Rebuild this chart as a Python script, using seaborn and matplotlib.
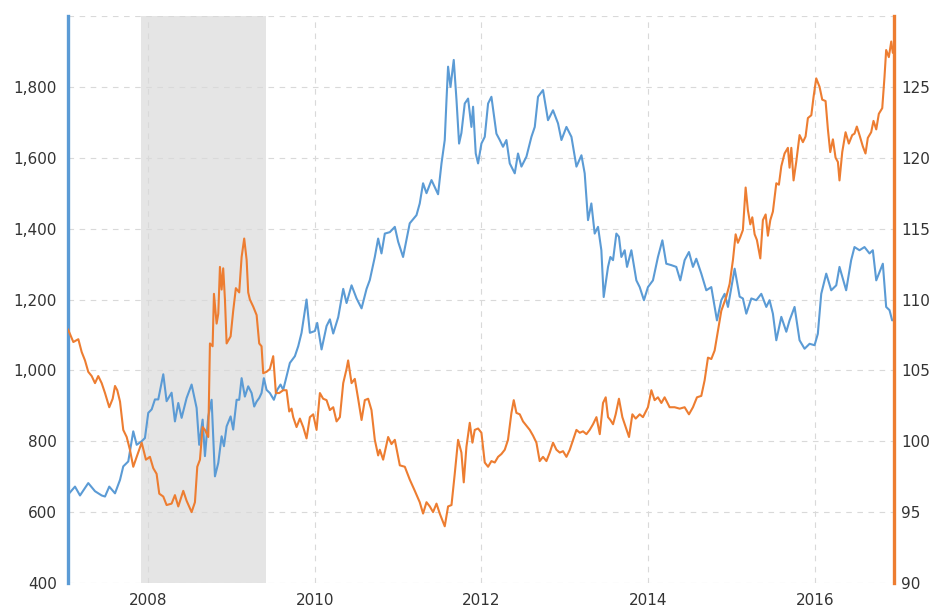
import matplotlib
matplotlib.use("Agg")
import matplotlib.pyplot as plt
import seaborn as sns
import pandas as pd

# ---- data (decimal years) ----
gold_t = [2007.04, 2007.124, 2007.184, 2007.283, 2007.364, 2007.444, 2007.484, 2007.535, 2007.604, 2007.664,
          2007.703, 2007.763, 2007.823, 2007.864, 2007.924, 2007.963, 2008.003, 2008.044, 2008.083, 2008.123,
          2008.183, 2008.223, 2008.283, 2008.323, 2008.363, 2008.403, 2008.463, 2008.523, 2008.583, 2008.614,
          2008.655, 2008.683, 2008.723, 2008.763, 2008.803, 2008.843, 2008.883, 2008.911, 2008.943, 2008.991,
          2009.022, 2009.063, 2009.094, 2009.123, 2009.162, 2009.202, 2009.243, 2009.274, 2009.303, 2009.334,
          2009.362, 2009.390, 2009.422, 2009.462, 2009.510, 2009.550, 2009.590, 2009.622, 2009.662, 2009.702,
          2009.762, 2009.802, 2009.842, 2009.902, 2009.942, 2010.002, 2010.030, 2010.082, 2010.142, 2010.182,
          2010.222, 2010.282, 2010.342, 2010.382, 2010.442, 2010.502, 2010.562, 2010.622, 2010.661, 2010.721,
          2010.761, 2010.801, 2010.841, 2010.901, 2010.961, 2011.001, 2011.060, 2011.140, 2011.221, 2011.260,
          2011.300, 2011.341, 2011.401, 2011.480, 2011.521, 2011.560, 2011.581, 2011.600, 2011.629, 2011.668,
          2011.701, 2011.732, 2011.760, 2011.800, 2011.840, 2011.880, 2011.900, 2011.932, 2011.960, 2012.000,
          2012.040, 2012.080, 2012.120, 2012.180, 2012.220, 2012.259, 2012.300, 2012.340, 2012.400, 2012.439,
          2012.480, 2012.540, 2012.600, 2012.640, 2012.679, 2012.739, 2012.799, 2012.859, 2012.919, 2012.960,
          2013.020, 2013.080, 2013.140, 2013.200, 2013.239, 2013.279, 2013.319, 2013.359, 2013.399, 2013.439,
          2013.467, 2013.519, 2013.547, 2013.579, 2013.619, 2013.650, 2013.679, 2013.719, 2013.747, 2013.799,
          2013.859, 2013.899, 2013.950, 2013.998, 2014.058, 2014.118, 2014.171, 2014.218, 2014.278, 2014.338,
          2014.386, 2014.438, 2014.490, 2014.538, 2014.578, 2014.638, 2014.698, 2014.758, 2014.826, 2014.878,
          2014.918, 2014.958, 2015.038, 2015.098, 2015.137, 2015.178, 2015.238, 2015.298, 2015.358, 2015.418,
          2015.457, 2015.497, 2015.538, 2015.598, 2015.658, 2015.697, 2015.757, 2015.817, 2015.877, 2015.937,
          2015.997, 2016.036, 2016.077, 2016.137, 2016.197, 2016.257, 2016.296, 2016.376, 2016.436, 2016.476,
          2016.536, 2016.596, 2016.656, 2016.696, 2016.737, 2016.816, 2016.856, 2016.896, 2016.928]
gold = [649, 672, 647, 682, 659, 647, 644, 672, 653, 691,
        729, 743, 828, 790, 800, 809, 880, 890, 918, 918,
        989, 913, 937, 856, 908, 866, 922, 960, 894, 790,
        861, 758, 870, 917, 701, 739, 814, 786, 842, 870,
        833, 917, 917, 978, 926, 955, 936, 898, 912, 922,
        936, 978, 945, 936, 917, 945, 960, 945, 983, 1021,
        1040, 1068, 1106, 1200, 1106, 1111, 1134, 1059, 1125, 1144,
        1104, 1150, 1230, 1190, 1240, 1203, 1175, 1230, 1255, 1320,
        1372, 1330, 1386, 1390, 1405, 1363, 1320, 1415, 1438, 1471,
        1528, 1500, 1537, 1497, 1584, 1650, 1763, 1857, 1800, 1876,
        1763, 1640, 1670, 1753, 1767, 1687, 1744, 1612, 1584, 1640,
        1659, 1753, 1772, 1668, 1650, 1631, 1650, 1584, 1556, 1612,
        1575, 1603, 1659, 1687, 1772, 1791, 1706, 1734, 1697, 1650,
        1687, 1659, 1575, 1607, 1556, 1424, 1471, 1386, 1405, 1339,
        1207, 1292, 1320, 1311, 1386, 1377, 1320, 1339, 1292, 1339,
        1254, 1235, 1198, 1235, 1254, 1320, 1367, 1301, 1297, 1292,
        1254, 1311, 1334, 1292, 1315, 1273, 1226, 1235, 1141, 1198,
        1216, 1179, 1287, 1208, 1203, 1160, 1203, 1198, 1216, 1179,
        1198, 1160, 1085, 1151, 1109, 1141, 1179, 1085, 1061, 1075,
        1071, 1103, 1216, 1273, 1226, 1240, 1292, 1226, 1311, 1348,
        1339, 1348, 1330, 1339, 1254, 1301, 1179, 1170, 1141]

usd_t = [2007.04, 2007.104, 2007.164, 2007.204, 2007.244, 2007.283, 2007.324, 2007.364, 2007.403, 2007.444,
         2007.484, 2007.535, 2007.576, 2007.604, 2007.631, 2007.664, 2007.703, 2007.744, 2007.783, 2007.823,
         2007.864, 2007.924, 2007.975, 2008.023, 2008.063, 2008.103, 2008.135, 2008.183, 2008.223, 2008.283,
         2008.323, 2008.363, 2008.423, 2008.463, 2008.523, 2008.563, 2008.591, 2008.623, 2008.655, 2008.683,
         2008.723, 2008.743, 2008.775, 2008.791, 2008.823, 2008.843, 2008.863, 2008.883, 2008.902, 2008.923,
         2008.943, 2008.991, 2009.022, 2009.054, 2009.094, 2009.123, 2009.154, 2009.183, 2009.202, 2009.222,
         2009.262, 2009.303, 2009.334, 2009.362, 2009.382, 2009.422, 2009.462, 2009.502, 2009.534, 2009.574,
         2009.622, 2009.662, 2009.694, 2009.722, 2009.742, 2009.782, 2009.822, 2009.862, 2009.902, 2009.942,
         2009.982, 2010.022, 2010.062, 2010.101, 2010.142, 2010.182, 2010.222, 2010.262, 2010.302, 2010.342,
         2010.382, 2010.401, 2010.442, 2010.481, 2010.521, 2010.562, 2010.601, 2010.641, 2010.681, 2010.721,
         2010.761, 2010.781, 2010.821, 2010.881, 2010.921, 2010.961, 2011.021, 2011.081, 2011.140, 2011.201,
         2011.260, 2011.300, 2011.341, 2011.381, 2011.420, 2011.461, 2011.500, 2011.560, 2011.600, 2011.641,
         2011.680, 2011.720, 2011.760, 2011.788, 2011.820, 2011.860, 2011.892, 2011.920, 2011.960, 2012.000,
         2012.040, 2012.080, 2012.120, 2012.160, 2012.200, 2012.240, 2012.280, 2012.319, 2012.360, 2012.388,
         2012.420, 2012.460, 2012.499, 2012.540, 2012.580, 2012.619, 2012.660, 2012.699, 2012.739, 2012.780,
         2012.820, 2012.859, 2012.900, 2012.940, 2012.979, 2013.020, 2013.060, 2013.100, 2013.140, 2013.180,
         2013.219, 2013.260, 2013.299, 2013.339, 2013.380, 2013.420, 2013.459, 2013.491, 2013.519, 2013.547,
         2013.579, 2013.611, 2013.650, 2013.691, 2013.731, 2013.771, 2013.811, 2013.851, 2013.899, 2013.938,
         2013.998, 2014.039, 2014.078, 2014.118, 2014.159, 2014.198, 2014.258, 2014.318, 2014.379, 2014.438,
         2014.490, 2014.538, 2014.586, 2014.638, 2014.678, 2014.718, 2014.758, 2014.798, 2014.838, 2014.878,
         2014.938, 2014.978, 2015.018, 2015.050, 2015.077, 2015.106, 2015.137, 2015.170, 2015.197, 2015.226,
         2015.250, 2015.278, 2015.305, 2015.346, 2015.377, 2015.410, 2015.437, 2015.466, 2015.497, 2015.538,
         2015.569, 2015.598, 2015.637, 2015.677, 2015.697, 2015.718, 2015.745, 2015.777, 2015.817, 2015.857,
         2015.889, 2015.917, 2015.958, 2015.985, 2016.017, 2016.057, 2016.089, 2016.129, 2016.157, 2016.185,
         2016.217, 2016.249, 2016.277, 2016.296, 2016.329, 2016.369, 2016.408, 2016.449, 2016.476, 2016.504,
         2016.536, 2016.576, 2016.608, 2016.636, 2016.676, 2016.704, 2016.737, 2016.768, 2016.809, 2016.836,
         2016.856, 2016.888, 2016.917, 2016.936]
usd = [107.9, 107.0, 107.2, 106.3, 105.7, 104.9, 104.6, 104.1, 104.6, 104.1,
       103.4, 102.4, 103.0, 103.9, 103.6, 102.8, 100.8, 100.3, 99.4, 98.2,
       98.9, 99.9, 98.7, 98.9, 98.1, 97.7, 96.3, 96.1, 95.5, 95.6,
       96.2, 95.4, 96.5, 95.8, 95.0, 95.7, 98.2, 98.7, 101.0, 100.8,
       100.3, 106.9, 106.7, 110.4, 108.3, 109.0, 112.3, 110.7, 112.2, 110.0,
       106.9, 107.4, 109.2, 110.8, 110.5, 113.0, 114.3, 112.8, 110.5, 110.0,
       109.5, 108.9, 106.9, 106.7, 104.8, 104.9, 105.1, 106.0, 103.4, 103.4,
       103.6, 103.6, 102.1, 102.3, 101.7, 101.0, 101.6, 101.0, 100.2, 101.7,
       101.9, 100.8, 103.4, 103.0, 102.9, 102.2, 102.4, 101.4, 101.7, 104.1,
       105.1, 105.7, 104.1, 104.4, 103.0, 101.5, 102.9, 103.0, 102.2, 100.1,
       99.0, 99.4, 98.7, 100.3, 99.8, 100.1, 98.3, 98.2, 97.3, 96.5,
       95.7, 94.9, 95.7, 95.4, 95.0, 95.6, 94.9, 94.0, 95.4, 95.5,
       97.7, 100.1, 99.2, 97.1, 99.6, 101.3, 99.9, 100.8, 100.9, 100.6,
       98.5, 98.2, 98.6, 98.5, 98.9, 99.1, 99.4, 100.1, 102.0, 102.9,
       102.0, 101.9, 101.4, 101.1, 100.8, 100.4, 99.9, 98.6, 98.9, 98.6,
       99.2, 99.9, 99.4, 99.2, 99.3, 98.9, 99.4, 100.1, 100.8, 100.6,
       100.7, 100.5, 100.8, 101.2, 101.7, 100.5, 102.7, 103.1, 101.7, 101.5,
       101.2, 101.9, 103.0, 101.7, 101.0, 100.3, 101.9, 101.6, 101.9, 101.7,
       102.4, 103.6, 102.9, 103.1, 102.7, 103.1, 102.4, 102.4, 102.3, 102.4,
       101.9, 102.4, 103.1, 103.2, 104.3, 105.9, 105.8, 106.4, 107.8, 109.2,
       110.2, 111.1, 112.8, 114.6, 114.0, 114.4, 114.9, 117.9, 116.3, 115.3,
       115.8, 114.6, 114.2, 112.9, 115.6, 116.0, 114.5, 115.6, 116.2, 118.2,
       118.1, 119.4, 120.3, 120.7, 119.3, 120.7, 118.4, 119.7, 121.6, 121.1,
       121.5, 122.8, 123.0, 124.3, 125.6, 125.0, 124.1, 124.0, 122.0, 120.4,
       121.3, 120.0, 119.7, 118.4, 120.4, 121.8, 121.0, 121.6, 121.7, 122.2,
       121.6, 120.8, 120.3, 121.4, 121.8, 122.6, 122.0, 123.1, 123.5, 125.7,
       127.6, 127.1, 128.2, 127.4]

recession = (2007.92, 2009.41)
x_ticks = [2008, 2010, 2012, 2014, 2016]
left_ticks = [400, 600, 800, 1000, 1200, 1400, 1600, 1800, 2000]
right_ticks = [90, 95, 100, 105, 110, 115, 120, 125, 130]

BLUE = "#5b9bd5"
ORANGE = "#ed7d31"
TEXT = "#333333"

sns.set_style("white")
plt.rcParams["font.family"] = ["DejaVu Sans"]

df_g = pd.DataFrame({"t": gold_t, "gold": gold})
df_u = pd.DataFrame({"t": usd_t, "usd": usd})

fig = plt.figure(figsize=(9.36, 6.09), dpi=100)
ax = fig.add_axes([68 / 936, 1 - 583 / 609, (894 - 68) / 936, (583 - 16) / 609])
ax2 = ax.twinx()

ax.axvspan(*recession, color="#e5e5e5", zorder=0, lw=0)

sns.lineplot(data=df_g, x="t", y="gold", ax=ax, color=BLUE, linewidth=1.5)
sns.lineplot(data=df_u, x="t", y="usd", ax=ax2, color=ORANGE, linewidth=1.5)

ax.set_xlim(2007.04, 2016.95)
ax.set_ylim(400, 2000)
ax2.set_ylim(90, 130)

ax.set_xticks(x_ticks)
ax.set_xticklabels([str(v) for v in x_ticks])
ax.set_yticks(left_ticks)
ax.set_yticklabels([f"{v:,}" if v < 2000 else "" for v in left_ticks])
ax2.set_yticks(right_ticks)
ax2.set_yticklabels([str(v) if v < 130 else "" for v in right_ticks])

ax.set_axisbelow(True)
ax.grid(True, color="#d9d9d9", linestyle=(0, (5, 5)), linewidth=0.8)
ax2.grid(False)

for a in (ax, ax2):
    a.set_xlabel("")
    a.set_ylabel("")
    for s in a.spines.values():
        s.set_visible(False)
ax.spines["left"].set_visible(True)
ax.spines["left"].set_color(BLUE)
ax.spines["left"].set_linewidth(2.4)
ax2.spines["right"].set_visible(True)
ax2.spines["right"].set_color(ORANGE)
ax2.spines["right"].set_linewidth(2.4)

ax.tick_params(axis="y", length=0, pad=8, labelsize=11, labelcolor=TEXT)
ax.tick_params(axis="x", length=0, pad=7, labelsize=11, labelcolor=TEXT)
ax2.tick_params(axis="y", length=0, pad=5, labelsize=11, labelcolor=TEXT)

fig.savefig("out.png", dpi=100)
